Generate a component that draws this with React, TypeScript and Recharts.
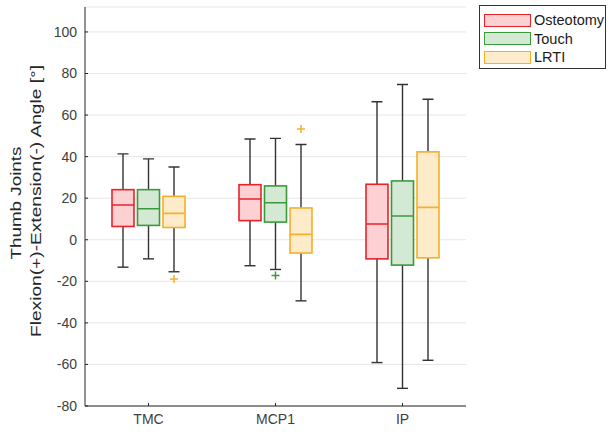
import React from 'react';
import { BarChart, Bar, XAxis, YAxis, CartesianGrid } from 'recharts';

const categories = ['TMC', 'MCP1', 'IP'];
const seriesNames = ['Osteotomy', 'Touch', 'LRTI'];

// whisker ends, quartiles and medians per joint
const osteotomyLow = [-13.2, -12.5, -59.1];
const osteotomyQ1 = [6.4, 9.2, -9.2];
const osteotomyMedian = [16.7, 19.6, 7.6];
const osteotomyQ3 = [24.1, 26.5, 26.7];
const osteotomyHigh = [41.3, 48.5, 66.4];
const osteotomyOutliers: number[][] = [[], [], []];

const touchLow = [-9.2, -14.3, -71.5];
const touchQ1 = [6.9, 8.5, -12.2];
const touchMedian = [14.9, 17.8, 11.4];
const touchQ3 = [24.1, 25.9, 28.3];
const touchHigh = [38.9, 48.8, 74.7];
const touchOutliers: number[][] = [[], [-17.2], []];

const lrtiLow = [-15.4, -29.4, -58.0];
const lrtiQ1 = [5.9, -6.4, -8.7];
const lrtiMedian = [12.7, 2.6, 15.6];
const lrtiQ3 = [20.9, 15.3, 42.3];
const lrtiHigh = [35.0, 45.8, 67.6];
const lrtiOutliers: number[][] = [[-18.9], [53.3], []];

const yTicks = [-80, -60, -40, -20, 0, 20, 40, 60, 80, 100];

const STROKES = ['#e8232a', '#3a9a3a', '#f5b028'];
const FILLS = ['#fdd0d3', '#d4e9d4', '#fdebca'];
const FONT = '"Liberation Sans", Arial, sans-serif';

const stats = [
    { low: osteotomyLow, q1: osteotomyQ1, med: osteotomyMedian, q3: osteotomyQ3, high: osteotomyHigh, out: osteotomyOutliers },
    { low: touchLow, q1: touchQ1, med: touchMedian, q3: touchQ3, high: touchHigh, out: touchOutliers },
    { low: lrtiLow, q1: lrtiQ1, med: lrtiMedian, q3: lrtiQ3, high: lrtiHigh, out: lrtiOutliers },
];

const data = categories.map((name, i) => {
    const row: any = { name };
    stats.forEach((s, k) => {
        row[`s${k}`] = {
            low: s.low[i], q1: s.q1[i], med: s.med[i], q3: s.q3[i], high: s.high[i], out: s.out[i],
        };
        row[`range${k}`] = [s.low[i], s.high[i]];
    });
    return row;
});

const makeBoxShape = (k: number) => (props: any) => {
    const { x, y, width, height, payload } = props;
    const st = payload[`s${k}`];
    const top = Math.min(y, y + height);
    const bottom = Math.max(y, y + height);
    // linear map inside the bar's own scaled extent
    const py = (v: number) => top + ((st.high - v) / (st.high - st.low)) * (bottom - top);
    const cx = x + width / 2;
    const cap = 5.5;
    const stroke = STROKES[k];
    return (
        <g>
            <line x1={cx} x2={cx} y1={top} y2={bottom} stroke="#333" strokeWidth={1.4} />
            <line x1={cx - cap} x2={cx + cap} y1={top} y2={top} stroke="#333" strokeWidth={1.4} />
            <line x1={cx - cap} x2={cx + cap} y1={bottom} y2={bottom} stroke="#333" strokeWidth={1.4} />
            <rect
                x={x}
                y={py(st.q3)}
                width={width}
                height={py(st.q1) - py(st.q3)}
                fill={FILLS[k]}
                stroke={stroke}
                strokeWidth={1.6}
            />
            <line x1={x} x2={x + width} y1={py(st.med)} y2={py(st.med)} stroke={stroke} strokeWidth={1.6} />
            {st.out.map((v: number, j: number) => (
                <g key={j} stroke={stroke} strokeWidth={1.5}>
                    <line x1={cx - 4} x2={cx + 4} y1={py(v)} y2={py(v)} />
                    <line x1={cx} x2={cx} y1={py(v) - 4} y2={py(v) + 4} />
                </g>
            ))}
        </g>
    );
};

const renderYLabel = () => (
    <g fill="#262626" fontSize={14} fontFamily={FONT}>
        <text x={0} y={0} textAnchor="middle" textLength={113} lengthAdjust="spacingAndGlyphs"
            transform="translate(21, 203) rotate(-90)">Thumb Joints</text>
        <text x={0} y={0} textAnchor="middle" textLength={272} lengthAdjust="spacingAndGlyphs"
            transform="translate(41, 201) rotate(-90)">
            Flexion(+)-Extension(-) Angle [°]
        </text>
    </g>
);

const LegendBox = () => (
    <div
        style={{
            position: 'absolute', left: 479, top: 5, width: 125, height: 62,
            border: '1px solid #333', background: '#fff', fontFamily: FONT, fontSize: 14.5, color: '#1a1a1a',
        }}
    >
        {seriesNames.map((n, k) => (
            <div key={n} style={{ position: 'absolute', left: 4, top: 7 + k * 18.5, height: 14, display: 'flex', alignItems: 'center' }}>
                <div style={{ width: 45, height: 11, background: FILLS[k], border: `1.5px solid ${STROKES[k]}` }} />
                <span style={{ marginLeft: 3 }}>{n}</span>
            </div>
        ))}
    </div>
);

export default function App() {
    return (
        <div style={{ position: 'absolute', left: 0, top: 0, width: 614, height: 434, background: '#fff' }}>
            <BarChart
                width={614}
                height={434}
                data={data}
                margin={{ top: 7, right: 148, bottom: 0, left: 0 }}
                barSize={22}
                barGap={3.5}
            >
                <CartesianGrid vertical={false} stroke="#e6e6e6" strokeWidth={1} />
                <XAxis
                    dataKey="name"
                    height={28}
                    tickSize={-3}
                    tickMargin={11}
                    stroke="#262626"
                    tick={{ fill: '#404040', fontSize: 14, fontFamily: FONT }}
                />
                <YAxis
                    type="number"
                    domain={[-80, 112]}
                    ticks={yTicks}
                    allowDataOverflow
                    width={85}
                    tickSize={-3}
                    tickMargin={11}
                    stroke="#262626"
                    tick={{ fill: '#404040', fontSize: 14, fontFamily: FONT }}
                    label={{ content: renderYLabel }}
                />
                {seriesNames.map((n, k) => (
                    <Bar key={n} dataKey={`range${k}`} name={n} shape={makeBoxShape(k)} isAnimationActive={false} />
                ))}
            </BarChart>
            <LegendBox />
        </div>
    );
}
